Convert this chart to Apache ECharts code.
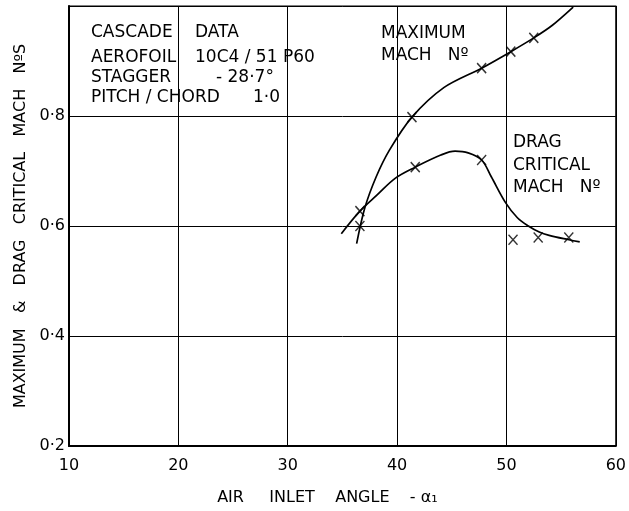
<!DOCTYPE html>
<html><head><meta charset="utf-8">
<script src="https://cdn.jsdelivr.net/npm/echarts@6/dist/echarts.min.js"></script>
<style>html,body{margin:0;padding:0;background:#fff}#c{width:629px;height:511px}</style>
</head><body><div id="c"></div>
<script>
// X tick labels and Y tick labels
const xTicks = [10, 20, 30, 40, 50, 60];
const yTicks = [0.2, 0.4, 0.6, 0.8];
const yTickLabels = ['0·2', '0·4', '0·6', '0·8'];

// Maximum Mach number curve (faired line)
const maxCurveX = [36.3, 37.05, 38.1, 39.3, 41.36, 44.3, 47.73, 50.4, 52.5, 54.2, 56.1];
const maxCurveY = [0.568, 0.633, 0.690, 0.738, 0.798, 0.852, 0.887, 0.917, 0.942, 0.965, 0.998];
// Maximum Mach number measured points
const maxPtsX = [36.6, 41.36, 47.73, 50.4, 52.5];
const maxPtsY = [0.600, 0.798, 0.887, 0.917, 0.942];

// Drag critical Mach number curve (faired line)
const dragCurveX = [34.9, 36.6, 38.2, 39.85, 41.66, 44.0, 45.3, 46.5, 47.73, 48.6, 49.9, 51.0, 52.0, 53.0, 53.9, 55.7, 56.7];
const dragCurveY = [0.586, 0.627, 0.657, 0.687, 0.707, 0.729, 0.736, 0.733, 0.720, 0.690, 0.643, 0.615, 0.600, 0.589, 0.583, 0.575, 0.571];
// Drag critical Mach number measured points
const dragPtsX = [36.6, 41.66, 47.73, 50.6, 52.9, 55.7];
const dragPtsY = [0.627, 0.707, 0.720, 0.575, 0.579, 0.579];

const zip = (a, b) => a.map((v, i) => [v, b[i]]);
const FONT = 'DejaVu Sans';
const crossSym = 'path://M0,0L10,10M10,0L0,10';

const chart = echarts.init(document.getElementById('c'));
const txt = (text, left, top, size) => ({
  type: 'text', left, top,
  style: { text, font: `${size || 17}px "${FONT}"`, fill: '#000' }
});
chart.setOption({
  animation: false,
  backgroundColor: '#fff',
  grid: { left: 69, right: 7, top: 6, bottom: 64, show: true, borderColor: '#000', borderWidth: 1.2, backgroundColor: 'transparent' },
  xAxis: {
    type: 'value', min: 10, max: 60, interval: 10,
    axisLine: { show: true, lineStyle: { color: '#000', width: 2 } },
    axisTick: { show: false },
    axisLabel: { color: '#000', fontFamily: FONT, fontSize: 16, margin: 12,
      formatter: v => xTicks.includes(v) ? String(v) : '' },
    splitLine: { show: true, lineStyle: { color: '#000', width: 1 } },
    name: 'AIR     INLET    ANGLE    - α\u2081',
    nameLocation: 'middle', nameGap: 44,
    nameTextStyle: { color: '#000', fontFamily: FONT, fontSize: 16, padding: [0, 30, 0, 0] }
  },
  yAxis: {
    type: 'value', min: 0.2, max: 1.0, interval: 0.2,
    axisLine: { show: true, lineStyle: { color: '#000', width: 2 } },
    axisTick: { show: false },
    axisLabel: { color: '#000', fontFamily: FONT, fontSize: 16, margin: 4,
      formatter: v => { const i = yTicks.findIndex(t => Math.abs(t - v) < 1e-6); return i >= 0 ? yTickLabels[i] : ''; } },
    splitLine: { show: true, lineStyle: { color: '#000', width: 1 } },
    name: 'MAXIMUM   &   DRAG   CRITICAL   MACH   NºS',
    nameLocation: 'middle', nameGap: 38,
    nameTextStyle: { color: '#000', fontFamily: FONT, fontSize: 16 }
  },
  series: [
    { type: 'line', data: zip(maxCurveX, maxCurveY), smooth: 0.3, showSymbol: false,
      lineStyle: { color: '#000', width: 1.7 }, z: 3 },
    { type: 'line', data: zip(dragCurveX, dragCurveY), smooth: 0.35, showSymbol: false,
      lineStyle: { color: '#000', width: 1.7 }, z: 3 },
    { type: 'scatter', data: zip(maxPtsX, maxPtsY), symbol: crossSym, symbolSize: [9, 10],
      itemStyle: { color: 'transparent', borderColor: '#000', borderWidth: 1.5 }, z: 4 },
    { type: 'scatter', data: zip(dragPtsX, dragPtsY), symbol: crossSym, symbolSize: [9, 10],
      itemStyle: { color: 'transparent', borderColor: '#000', borderWidth: 1.5 }, z: 4 }
  ],
  graphic: [
    txt('CASCADE', 91, 24), txt('DATA', 195, 24),
    txt('AEROFOIL', 91, 49), txt('10C4 / 51 P60', 195, 49),
    txt('STAGGER', 91, 69), txt('- 28·7°', 216, 69),
    txt('PITCH / CHORD', 91, 89), txt('1·0', 253, 89),
    txt('MAXIMUM', 381, 25),
    txt('MACH   Nº', 381, 47),
    txt('DRAG', 513, 134),
    txt('CRITICAL', 513, 157),
    txt('MACH   Nº', 513, 179)
  ]
});
</script></body></html>
